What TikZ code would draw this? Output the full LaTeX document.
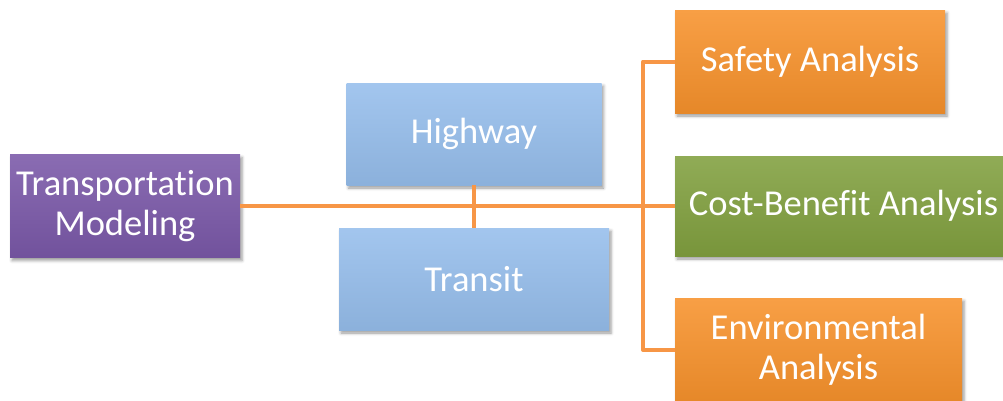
\documentclass[tikz,border=0pt]{standalone}
\usepackage{fontspec}
\setmainfont{Carlito}[Ligatures=NoCommon]
\usetikzlibrary{shadows.blur,positioning}
\definecolor{modelPurple}{HTML}{7A58A8}
\definecolor{modeBlue}{HTML}{96BEEC}
\definecolor{analysisOrange}{HTML}{F7922C}
\definecolor{analysisGreen}{HTML}{81A03F}
\definecolor{linkOrange}{HTML}{F79646}
\tikzset{
	LinkStyle/.style={draw=linkOrange, line width=4pt, line join=round}
}

\begin{document}
\begin{tikzpicture}[x=1pt, y=-1pt,
		BoxStyle/.style={draw=none, text=white, align=center, inner sep=0pt, outer sep=0pt,
				font=\fontsize{36.5}{40}\selectfont,
				top color=#1!88!white, bottom color=#1!93!black,
				blur shadow={shadow xshift=2pt, shadow yshift=-3pt, shadow blur radius=3pt, shadow opacity=40}}]
		\useasboundingbox (0,0) rectangle (1003,400);
		% input model
		\node[BoxStyle=modelPurple, minimum width=230pt, minimum height=103pt] (tm) at (125,206) {Transportation\\Modeling};
		% modes
		\node[BoxStyle=modeBlue, minimum width=255pt, minimum height=102pt] (hw) at (474,134) {Highway};
		\node[BoxStyle=modeBlue, minimum width=270pt, minimum height=102pt] (tr) at (474,279) {Transit};
		% analyses
		\node[BoxStyle=analysisOrange, minimum width=270pt, minimum height=103pt] (sa) at (810,61.5) {Safety Analysis};
		\node[BoxStyle=analysisGreen, minimum width=337pt, minimum height=100pt] (cb) at (843.5,206) {Cost-Benefit Analysis};
		\node[BoxStyle=analysisOrange, minimum width=287pt, minimum height=104pt] (ea) at (818.5,350) {Environmental\\Analysis};
		\coordinate (bus) at (643,206);
		\draw[LinkStyle] (tm.east) -- (cb.west);
		\draw[LinkStyle] (hw.south) -- (tr.north);
		\draw[LinkStyle] (sa.west) -- (sa.west -| bus) |- (ea.west);
	\end{tikzpicture}
\end{document}
